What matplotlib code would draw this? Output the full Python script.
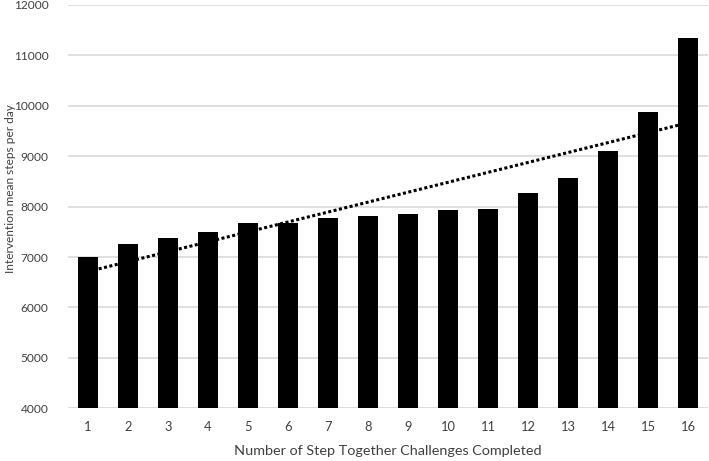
import numpy as np
from matplotlib import pyplot as plt

plt.rcParams["font.family"] = ["Lato", "DejaVu Sans"]

challenges = list(range(1, 17))
mean_steps = [7000, 7258, 7377, 7502, 7683, 7680, 7782, 7815,
              7855, 7935, 7955, 8266, 8563, 9107, 9887, 11339]
y_ticks = [4000, 5000, 6000, 7000, 8000, 9000, 10000, 11000, 12000]

fig = plt.figure(figsize=(7.09, 4.61), dpi=100)
ax = fig.add_axes([0.0959, 0.1143, 0.9027, 0.8749])

ax.bar(challenges, mean_steps, width=0.5, color="black", zorder=2)

# linear trendline, as in the spreadsheet
slope, intercept = np.polyfit(challenges, mean_steps, 1)
x = np.array(challenges)
ax.plot(x, slope * x + intercept, color="black", linewidth=2.2,
        linestyle=(0, (1, 0.8)), zorder=3)

ax.set_xlim(0.5, 16.5)
ax.set_ylim(4000, 12000)
ax.set_xticks(challenges)
ax.set_yticks(y_ticks)
ax.yaxis.grid(True, color="#d9d9d9", linewidth=1.2, zorder=0)
ax.set_axisbelow(True)
for side in ["top", "right", "left", "bottom"]:
    ax.spines[side].set_visible(False)
ax.tick_params(axis="both", length=0, colors="#404040")
ax.tick_params(axis="x", pad=9, labelsize=9.3)
ax.tick_params(axis="y", pad=14, labelsize=8.6)

ax.set_xlabel("Number of Step Together Challenges Completed", fontsize=10.4,
              color="#404040", labelpad=9)
ax.set_ylabel("Intervention mean steps per day", fontsize=8.6,
              color="#404040")
ax.yaxis.set_label_coords(-0.082, 0.546)

fig.savefig("out.png", dpi=100)
